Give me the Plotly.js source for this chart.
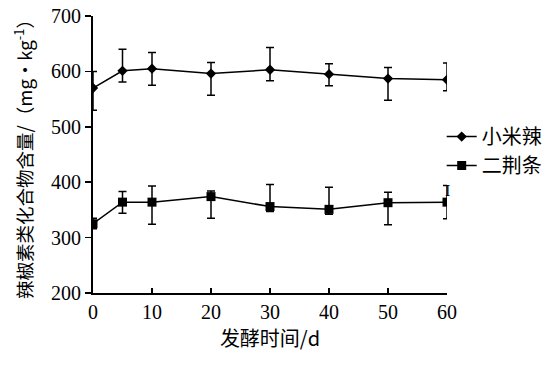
<!DOCTYPE html>
<html>
<head>
<meta charset="utf-8">
<script src="https://cdn.plot.ly/plotly-3.0.1.min.js"></script>
<style>
html,body{margin:0;padding:0;background:#fff;}
#chart{width:554px;height:366px;}
</style>
</head>
<body>
<div id="chart"></div>
<script>
const days = [0, 5, 10, 20, 30, 40, 50, 60];
const seriesNames = ["小米辣", "二荆条"];
const xiaomila = [570, 601, 605, 596, 603, 595, 587, 585];
const xiaomilaErrUp = [30, 39, 29, 20, 40, 19, 20, 30];
const xiaomilaErrDown = [40, 20, 30, 39, 20, 21, 39, 20];
const erjingtiao = [325, 364, 364, 374, 356, 351, 363, 364];
const erjingtiaoErrUp = [10, 19, 29, 10, 40, 40, 19, 30];
const erjingtiaoErrDown = [9, 20, 40, 39, 9, 9, 40, 30];
const xTicks = [0, 10, 20, 30, 40, 50, 60];
const yTicks = [200, 300, 400, 500, 600, 700];

const serif = "Liberation Serif";
const cjk = "Noto Sans CJK SC";

const traces = [
  {
    x: days, y: xiaomila, name: seriesNames[0], type: "scatter", mode: "lines+markers",
    line: {color: "#000", width: 1.5},
    marker: {symbol: "diamond", size: 8, color: "#000"},
    error_y: {type: "data", symmetric: false, array: xiaomilaErrUp, arrayminus: xiaomilaErrDown,
              color: "#000", thickness: 1.5, width: 4}
  },
  {
    x: days, y: erjingtiao, name: seriesNames[1], type: "scatter", mode: "lines+markers",
    line: {color: "#000", width: 1.5},
    marker: {symbol: "square", size: 9, color: "#000"},
    error_y: {type: "data", symmetric: false, array: erjingtiaoErrUp, arrayminus: erjingtiaoErrDown,
              color: "#000", thickness: 1.5, width: 4}
  }
];

const layout = {
  width: 554, height: 366,
  margin: {l: 93, r: 107, t: 16, b: 73, autoexpand: false},
  paper_bgcolor: "#fff", plot_bgcolor: "#fff",
  font: {family: serif, size: 20, color: "#000"},
  showlegend: true,
  legend: {x: 0.985, y: 0.635, xanchor: "left", yanchor: "top",
           font: {family: cjk, size: 20, color: "#000"},
           bgcolor: "rgba(0,0,0,0)", tracegroupgap: 0, itemwidth: 30},
  xaxis: {
    range: [xTicks[0], xTicks[xTicks.length - 1]],
    tickmode: "array", tickvals: xTicks,
    showgrid: false, zeroline: false,
    showline: true, linecolor: "#000", linewidth: 2,
    ticks: "inside", ticklen: 5, tickwidth: 2, tickcolor: "#000",
    tickfont: {family: serif, size: 20, color: "#000"},
    title: {text: "发酵时间/d", font: {family: cjk, size: 20, color: "#000"}, standoff: 8}
  },
  yaxis: {
    range: [yTicks[0], yTicks[yTicks.length - 1]],
    tickmode: "array", tickvals: yTicks,
    showgrid: false, zeroline: false,
    showline: true, linecolor: "#000", linewidth: 2,
    ticks: "outside", ticklen: 6, tickwidth: 1.5, tickcolor: "#000",
    tickfont: {family: serif, size: 20, color: "#000"},
    title: {text: "辣椒素类化合物含量/（mg•kg<sup>-1</sup>）", font: {family: cjk, size: 18.5, color: "#000"}, standoff: 14}
  },
  annotations: [
    {xref: "paper", yref: "paper", x: 1.0, y: 0.37, xanchor: "center", yanchor: "middle",
     text: "I", showarrow: false, font: {family: serif, size: 16, color: "#000"}}
  ]
};

Plotly.newPlot("chart", traces, layout, {displayModeBar: false, staticPlot: true}).then(function () {
  document.querySelectorAll("#chart .xtick text, #chart .ytick text").forEach(function (t) {
    t.style.setProperty("font-family", "'Liberation Serif', 'Times New Roman', serif", "important");
  });
});
</script>
</body>
</html>
